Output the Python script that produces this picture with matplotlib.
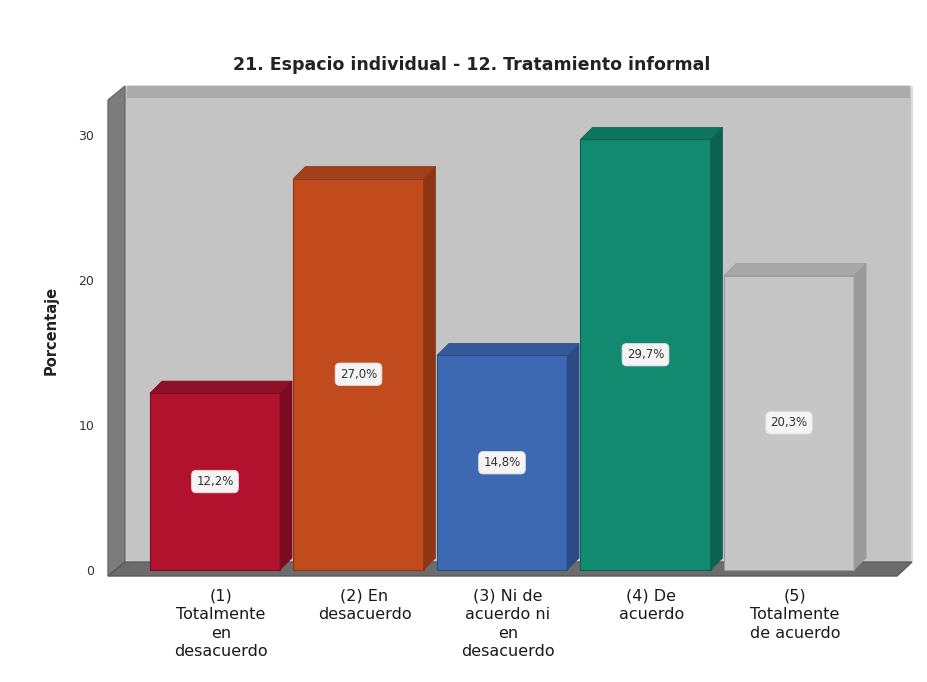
import matplotlib
matplotlib.use("Agg")
import matplotlib.pyplot as plt
from matplotlib.patches import Polygon, Rectangle, FancyBboxPatch

# Data
categories = [
    "(1)\nTotalmente\nen\ndesacuerdo",
    "(2) En\ndesacuerdo",
    "(3) Ni de\nacuerdo ni\nen\ndesacuerdo",
    "(4) De\nacuerdo",
    "(5)\nTotalmente\nde acuerdo",
]
percentages = [12.2, 27.0, 14.8, 29.7, 20.3]
y_ticks = [0, 10, 20, 30]
title = "21. Espacio individual - 12. Tratamiento informal"
y_label = "Porcentaje"

front_colors = ["#b3122e", "#c24b1d", "#3d69b3", "#128a70", "#c6c6c6"]
side_colors = ["#7d0c20", "#8e3614", "#2a4b85", "#0c6150", "#9a9a9a"]
top_colors = ["#8f0f26", "#a33f17", "#33599a", "#0f745e", "#a8a8a8"]

W, H = 928, 682
fig = plt.figure(figsize=(W / 100, H / 100), dpi=100)
fig.patch.set_facecolor("white")

# axes box in pixel coordinates (image y downward)
AX_L, AX_R, AX_T, AX_B = 100, 920, 80, 580
ax = fig.add_axes([AX_L / W, (H - AX_B) / H, (AX_R - AX_L) / W, (AX_B - AX_T) / H])

# pixel <-> data mapping
X0, XS = 221.0, 143.5  # centre of first bar, spacing in px
Y0, YS = 570.0, 14.5   # baseline px, px per percentage point
ax.set_xlim((AX_L - X0) / XS, (AX_R - X0) / XS)
ax.set_ylim((Y0 - AX_B) / YS, (Y0 - AX_T) / YS)


def dx(px):
    return (px - X0) / XS


def dy(py):
    return (Y0 - py) / YS


for s in ax.spines.values():
    s.set_visible(False)
ax.set_facecolor("none")

# back wall
wall = FancyBboxPatch((dx(125), dy(562)), dx(912) - dx(125), dy(86) - dy(562),
                      boxstyle="round,pad=0,rounding_size=0.08",
                      facecolor="#c4c4c4", edgecolor="#dcdcdc", lw=1.5, zorder=0)
ax.add_patch(wall)
ax.add_patch(Rectangle((dx(127), dy(98)), dx(910) - dx(127), dy(86) - dy(98),
                       facecolor="#ababab", edgecolor="none", zorder=0.5))
# left wall
ax.add_patch(Polygon([(dx(108), dy(100)), (dx(125), dy(86)), (dx(125), dy(562)),
                      (dx(108), dy(576))], closed=True, facecolor="#7c7c7c",
                     edgecolor="#6a6a6a", lw=1, zorder=1))
# floor
ax.add_patch(Polygon([(dx(108), dy(576)), (dx(125), dy(562)), (dx(912), dy(562)),
                      (dx(897), dy(576))], closed=True, facecolor="#6c6c6c",
                     edgecolor="#5a5a5a", lw=1, zorder=1))

# 3D bars
half = 0.495
depth_x = 12 / XS
depth_y = 12 / YS
for i, v in enumerate(percentages):
    left = i - half
    right_front = i + half - depth_x
    right = i + half
    ax.bar(i - depth_x / 2, v, width=2 * half - depth_x, bottom=0,
           color=front_colors[i], edgecolor=side_colors[i], lw=0.8, zorder=3)
    ax.add_patch(Polygon([(right_front, 0), (right, depth_y), (right, v + depth_y),
                          (right_front, v)], closed=True, facecolor=side_colors[i],
                         edgecolor=side_colors[i], lw=0.5, zorder=3))
    ax.add_patch(Polygon([(left, v), (left + depth_x, v + depth_y), (right, v + depth_y),
                          (right_front, v)], closed=True, facecolor=top_colors[i],
                         edgecolor=side_colors[i], lw=0.5, zorder=3))
    ax.text(i - depth_x / 2, v / 2, f"{v:.1f}%".replace(".", ","),
            ha="center", va="center", fontsize=8.5, color="#333333", zorder=5,
            bbox=dict(boxstyle="round,pad=0.4", facecolor="#f4f4f4",
                      edgecolor="#dddddd", lw=0.6))

# axis ticks and labels
ax.set_yticks(y_ticks)
ax.set_yticklabels([str(t) for t in y_ticks], fontsize=9, color="#333333")
ax.tick_params(axis="y", length=0, pad=4)
ax.set_xticks(range(len(categories)))
ax.set_xticklabels(categories, fontsize=11.5, color="#1a1a1a", linespacing=1.3)
ax.tick_params(axis="x", length=0, pad=6)
ax.set_ylabel(y_label, fontsize=10.5, fontweight="bold", color="#222222", labelpad=14)

fig.text(472 / W, 1 - 65 / H, title, ha="center", va="center",
         fontsize=12.5, fontweight="bold", color="#222222")

fig.savefig("out.png", dpi=100, facecolor="white")
